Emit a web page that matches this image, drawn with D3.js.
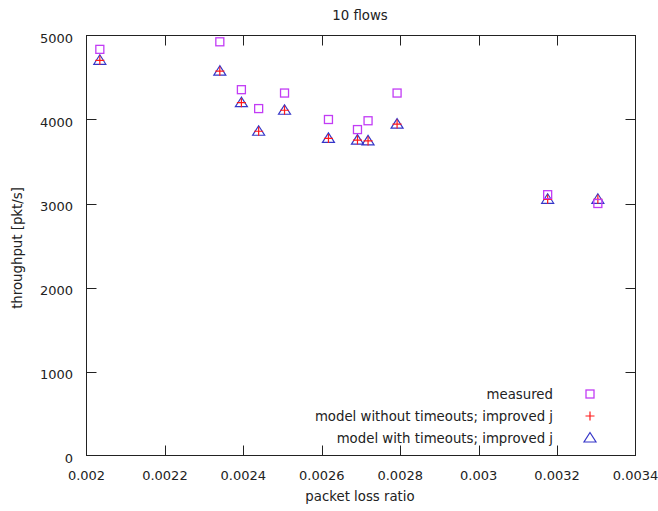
<!DOCTYPE html>
<html>
<head>
<meta charset="utf-8">
<script src="https://cdn.jsdelivr.net/npm/d3@7"></script>
<style>
  html, body { margin: 0; padding: 0; background: #fff; }
  svg { display: block; font-family: "DejaVu Sans", sans-serif; }
</style>
</head>
<body>
<svg id="chart" width="658" height="511"></svg>
<script>
// Packet loss ratio for each run
const lossRatio = [0.002034, 0.002340, 0.002395, 0.002439, 0.002505, 0.002617,
                   0.002691, 0.002718, 0.002792, 0.003176, 0.003304];
// Measured throughput [pkt/s]
const measured = [4835, 4925, 4355, 4130, 4315, 4000, 3880, 3985, 4315, 3105, 3000];
// Model without timeouts, improved j
const modelNoTimeouts = [4705, 4575, 4200, 3860, 4110, 3775, 3755, 3745, 3945, 3050, 3050];
// Model with timeouts, improved j
const modelTimeouts = [4705, 4575, 4200, 3860, 4110, 3775, 3755, 3745, 3945, 3050, 3050];

const xTicks = [0.002, 0.0022, 0.0024, 0.0026, 0.0028, 0.003, 0.0032, 0.0034];
const yTicks = [0, 1000, 2000, 3000, 4000, 5000];

const seriesNames = ["measured", "model without timeouts; improved j", "model with timeouts; improved j"];
const seriesColors = ["#c23cf5", "#ff1a1a", "#3535c8"];

const svg = d3.select("#chart");
const plotLeft = 86.5, plotRight = 635.5, plotTop = 35.5, plotBottom = 455.5;

const x = d3.scaleLinear().domain([0.002, 0.0034]).range([plotLeft, plotRight]);
const y = d3.scaleLinear().domain([0, 5000]).range([plotBottom, plotTop]);

const fs = 13;
const labelFs = 13.3;
const tickLen = 10;
const axisColor = "#222";

// Plot border
svg.append("rect")
  .attr("x", plotLeft).attr("y", plotTop)
  .attr("width", plotRight - plotLeft).attr("height", plotBottom - plotTop)
  .attr("fill", "none").attr("stroke", axisColor).attr("stroke-width", 1);

// X ticks (mirrored on top) and labels
const xg = svg.append("g");
xTicks.forEach(t => {
  const px = Math.round(x(t)) + 0.5;
  if (t > 0.002 && t < 0.0034) {
    xg.append("line").attr("x1", px).attr("x2", px).attr("y1", plotBottom).attr("y2", plotBottom - tickLen)
      .attr("stroke", axisColor);
    xg.append("line").attr("x1", px).attr("x2", px).attr("y1", plotTop).attr("y2", plotTop + tickLen)
      .attr("stroke", axisColor);
  }
  xg.append("text").attr("x", x(t)).attr("y", 480)
    .attr("text-anchor", "middle").attr("font-size", fs).attr("fill", "#222")
    .text(String(t));
});

// Y ticks (mirrored on right) and labels
const yg = svg.append("g");
yTicks.forEach(t => {
  const py = Math.round(y(t)) + 0.5;
  if (t > 0 && t < 5000) {
    yg.append("line").attr("x1", plotLeft).attr("x2", plotLeft + tickLen).attr("y1", py).attr("y2", py)
      .attr("stroke", axisColor);
    yg.append("line").attr("x1", plotRight).attr("x2", plotRight - tickLen).attr("y1", py).attr("y2", py)
      .attr("stroke", axisColor);
  }
  yg.append("text").attr("x", 73).attr("y", y(t) + 7)
    .attr("text-anchor", "end").attr("font-size", fs).attr("fill", "#222")
    .text(t);
});

// Title and axis labels
svg.append("text").attr("x", 360).attr("y", 20).attr("text-anchor", "middle")
  .attr("font-size", labelFs).attr("fill", "#222").text("10 flows");
svg.append("text").attr("x", 360).attr("y", 501).attr("text-anchor", "middle")
  .attr("font-size", labelFs).attr("fill", "#222").text("packet loss ratio");
svg.append("text").attr("transform", "translate(22,248) rotate(-90)").attr("text-anchor", "middle")
  .attr("font-size", labelFs).attr("fill", "#222").text("throughput [pkt/s]");

// Marker shapes
function square(g, cx, cy, color) {
  g.append("rect").attr("x", cx - 4).attr("y", cy - 4).attr("width", 8).attr("height", 8)
    .attr("fill", "none").attr("stroke", color).attr("stroke-width", 1.3);
}
function plus(g, cx, cy, color) {
  g.append("path").attr("d", `M${cx - 4.5},${cy}H${cx + 4.5}M${cx},${cy - 4.5}V${cy + 4.5}`)
    .attr("fill", "none").attr("stroke", color).attr("stroke-width", 1.2);
}
function triangle(g, cx, cy, color) {
  g.append("path").attr("d", `M${cx},${cy - 5.5}L${cx - 6},${cy + 4}L${cx + 6},${cy + 4}Z`)
    .attr("fill", "none").attr("stroke", color).attr("stroke-width", 1.2);
}
const drawers = [square, plus, triangle];
const series = [measured, modelNoTimeouts, modelTimeouts];

const marks = svg.append("g");
// Triangles first, then plus signs, then squares on top
[2, 1, 0].forEach(s => {
  series[s].forEach((v, i) => drawers[s](marks, x(lossRatio[i]), y(v), seriesColors[s]));
});

// Legend
const legendY = [394, 416, 438];
const lg = svg.append("g");
seriesNames.forEach((name, s) => {
  lg.append("text").attr("x", 553).attr("y", legendY[s] + 4.5).attr("text-anchor", "end")
    .attr("font-size", labelFs).attr("fill", "#222").text(name);
  drawers[s](lg, 590, legendY[s], seriesColors[s]);
});
</script>
</body>
</html>
